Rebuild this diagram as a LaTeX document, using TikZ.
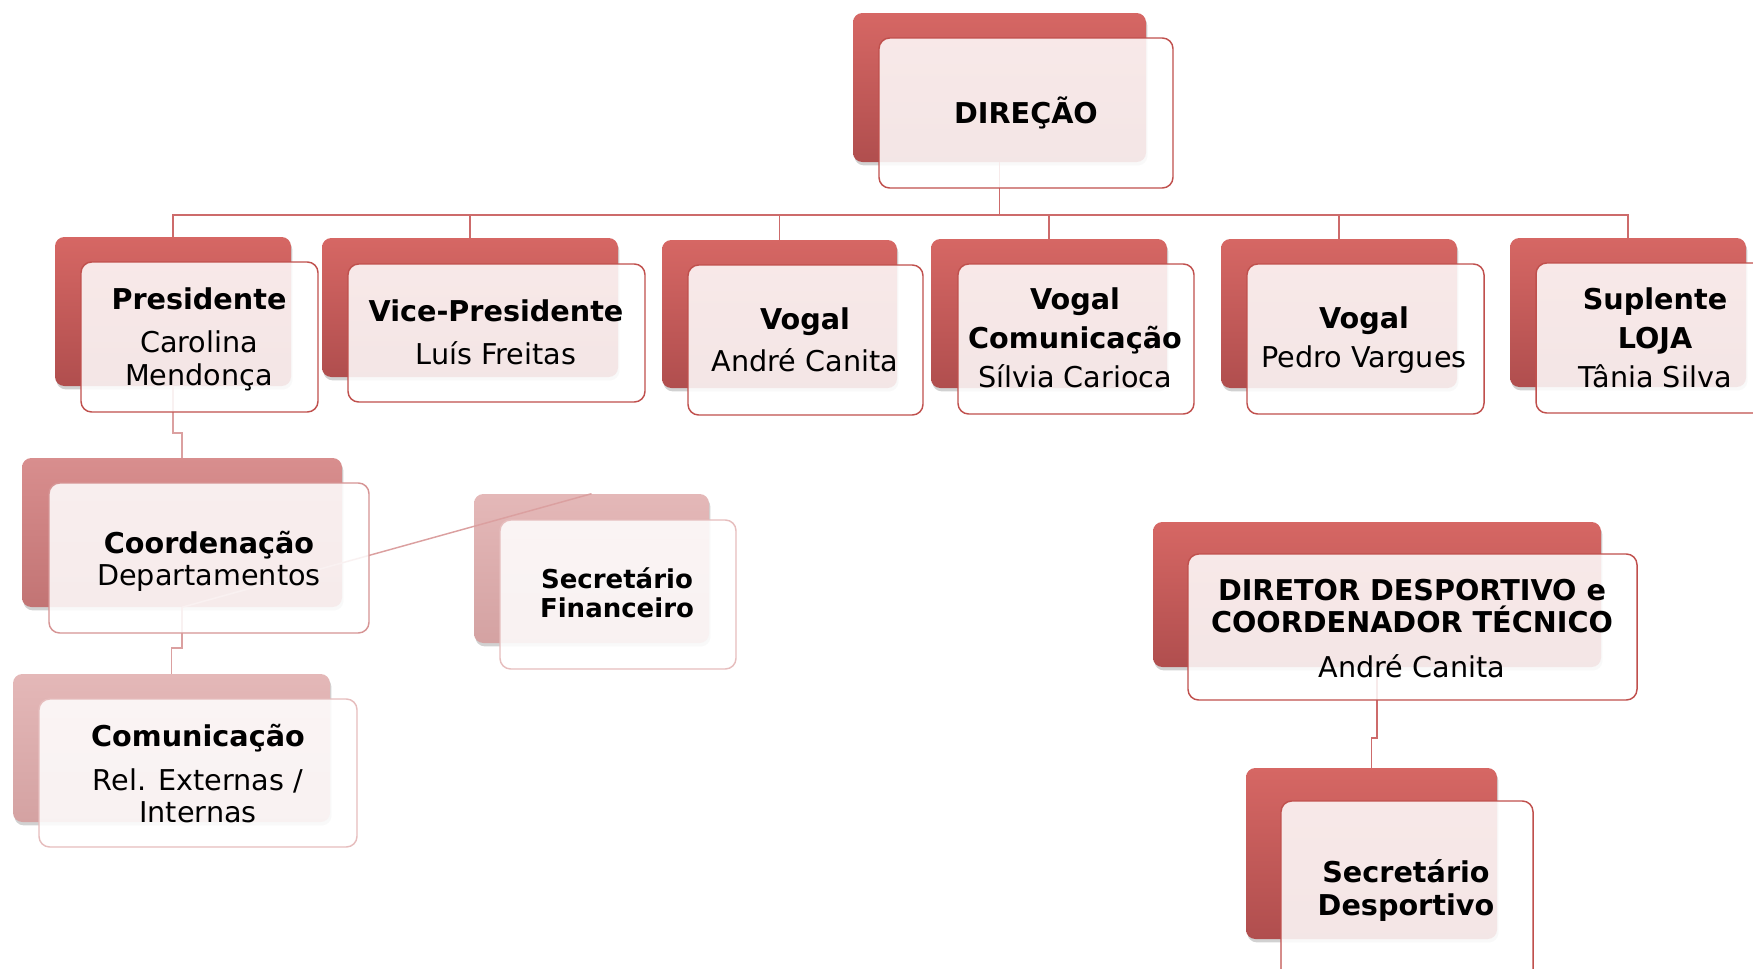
\documentclass[tikz,border=0pt]{standalone}
\usepackage{fontspec}
\setmainfont{DejaVu Sans}
\usetikzlibrary{fit,shadows}
\definecolor{bkTop}{HTML}{D66764}
\definecolor{bkBot}{HTML}{B04E4E}
\definecolor{frBorder}{HTML}{C0504D}
\definecolor{cdTop}{HTML}{D88E8E}
\definecolor{cdBot}{HTML}{C27474}
\definecolor{cdBorder}{HTML}{D69494}
\definecolor{ltTop}{HTML}{E4B8B8}
\definecolor{ltBot}{HTML}{D4A2A2}
\definecolor{ltBorder}{HTML}{E6BDBD}
\definecolor{connMain}{HTML}{CD6B6B}
\definecolor{connLight}{HTML}{DBA0A0}
\begin{document}
\begin{tikzpicture}[x=0.75pt,y=-0.75pt,
  backbox/.style={rounded corners=7pt, inner sep=0pt, draw=none,
    top color=bkTop, bottom color=bkBot,
    drop shadow={shadow xshift=1pt, shadow yshift=-2.5pt, opacity=0.18, fill=black}},
  backcd/.style={backbox, top color=cdTop, bottom color=cdBot},
  backlt/.style={backbox, top color=ltTop, bottom color=ltBot},
  frontbox/.style={rounded corners=8pt, inner sep=0pt, draw=frBorder, line width=1.1pt,
    fill=white, fill opacity=0.86},
  frontcd/.style={frontbox, draw=cdBorder},
  frontlt/.style={frontbox, draw=ltBorder},
  label/.style={align=center, inner sep=0pt, font=\fontsize{21.5}{24.3}\selectfont},
  smalllabel/.style={align=center, inner sep=0pt, font=\fontsize{19.5}{21.8}\selectfont},
  conn/.style={draw=connMain, line width=1.1pt},
  connlt/.style={draw=connLight, line width=1.1pt}
]
\useasboundingbox (0,0) rectangle (1753,968);

% back boxes
\node[backbox, fit={(853,13) (1146,162)}] (dirB) {};
\node[backbox, fit={(55,237) (291,386)}] (presB) {};
\node[backbox, fit={(322,238) (618,377)}] (viceB) {};
\node[backbox, fit={(662,240) (897,388)}] (vogaB) {};
\node[backbox, fit={(931,239) (1167,388)}] (vogcB) {};
\node[backbox, fit={(1221,239) (1457,388)}] (vogpB) {};
\node[backbox, fit={(1510,238) (1746,387)}] (supB) {};
\node[backcd, fit={(22,458) (342,607)}] (coordB) {};
\node[backlt, fit={(474,494) (709,643)}] (sfB) {};
\node[backlt, fit={(13,674) (330,822)}] (comB) {};
\node[backbox, fit={(1153,522) (1601,667)}] (ddB) {};
\node[backbox, fit={(1246,768) (1497,939)}] (sdB) {};

% connectors
\coordinate (bus) at (0,215);
\coordinate (jogA) at (0,433);
\coordinate (jogB) at (0,648);
\coordinate (jogC) at (0,738);
\draw[conn] (dirB.south) -- (dirB.south |- bus) -| (presB.north);
\draw[conn] (dirB.south |- bus) -| (viceB.north);
\draw[conn] (dirB.south |- bus) -| (vogaB.north);
\draw[conn] (dirB.south |- bus) -| (vogcB.north);
\draw[conn] (dirB.south |- bus) -| (vogpB.north);
\draw[conn] (dirB.south |- bus) -| (supB.north);
\draw[connlt] (presB.south) -- (presB.south |- jogA) -| (coordB.north);
\draw[connlt] (coordB.south) -- (coordB.south |- jogB) -| (comB.north);
\draw[connlt] (coordB.south) -- (sfB.north);
\draw[conn] (ddB.south) -- (ddB.south |- jogC) -| (sdB.north);

% front boxes
\node[frontbox, fit={(879,38) (1173,188)}] (dirF) {};
\node[frontbox, fit={(81,262) (318,412)}] (presF) {};
\node[frontbox, fit={(348,264) (645,402)}] (viceF) {};
\node[frontbox, fit={(688,265) (923,415)}] (vogaF) {};
\node[frontbox, fit={(958,264) (1194,414)}] (vogcF) {};
\node[frontbox, fit={(1247,264) (1484,414)}] (vogpF) {};
\node[frontbox, fit={(1536,263) (1773,413)}] (supF) {};
\node[frontcd, fit={(49,483) (369,633)}] (coordF) {};
\node[frontlt, fit={(500,520) (736,669)}] (sfF) {};
\node[frontlt, fit={(39,699) (357,847)}] (comF) {};
\node[frontbox, fit={(1188,554) (1637,700)}] (ddF) {};
\node[frontbox, fit={(1281,801) (1533,990)}] (sdF) {};

% texts
\node[label] (dirT) at (1026,113) {\textbf{DIREÇÃO}};
\node[label] (presT) at (199,339.5) {\textbf{Presidente}\\[8pt]Carolina\\Mendonça};
\node[label] (viceT) at (496,332.5) {\textbf{Vice-Presidente}\\[8pt]Luís Freitas};
\node[label] (vogaT) at (805,339.5) {\textbf{Vogal}\\[7pt]André Canita};
\node[label] (vogcT) at (1075,338) {\textbf{Vogal}\\[5pt]\textbf{Comunicação}\\[5pt]Sílvia Carioca};
\node[label] (vogpT) at (1364,340.5) {\textbf{Vogal}\\[5pt]Pedro Vargues};
\node[label] (supT) at (1655,337.5) {\textbf{Suplente}\\[5pt]\textbf{LOJA}\\[5pt]Tânia Silva};
\node[label] (coordT) at (209,561.5) {\textbf{Coordenação}\\Departamentos};
\node[smalllabel] (sfT) at (617,593) {\textbf{Secretário}\\\textbf{Financeiro}};
\node[label] (comT) at (198,773.5) {\textbf{Comunicação}\\[9pt]Rel. Externas /\\Internas};
\node[label] (ddT) at (1412,628.5) {\textbf{DIRETOR DESPORTIVO e}\\\textbf{COORDENADOR TÉCNICO}\\[9pt]André Canita};
\node[label] (sdT) at (1406,890.5) {\textbf{Secretário}\\\textbf{Desportivo}};
\end{tikzpicture}
\end{document}
